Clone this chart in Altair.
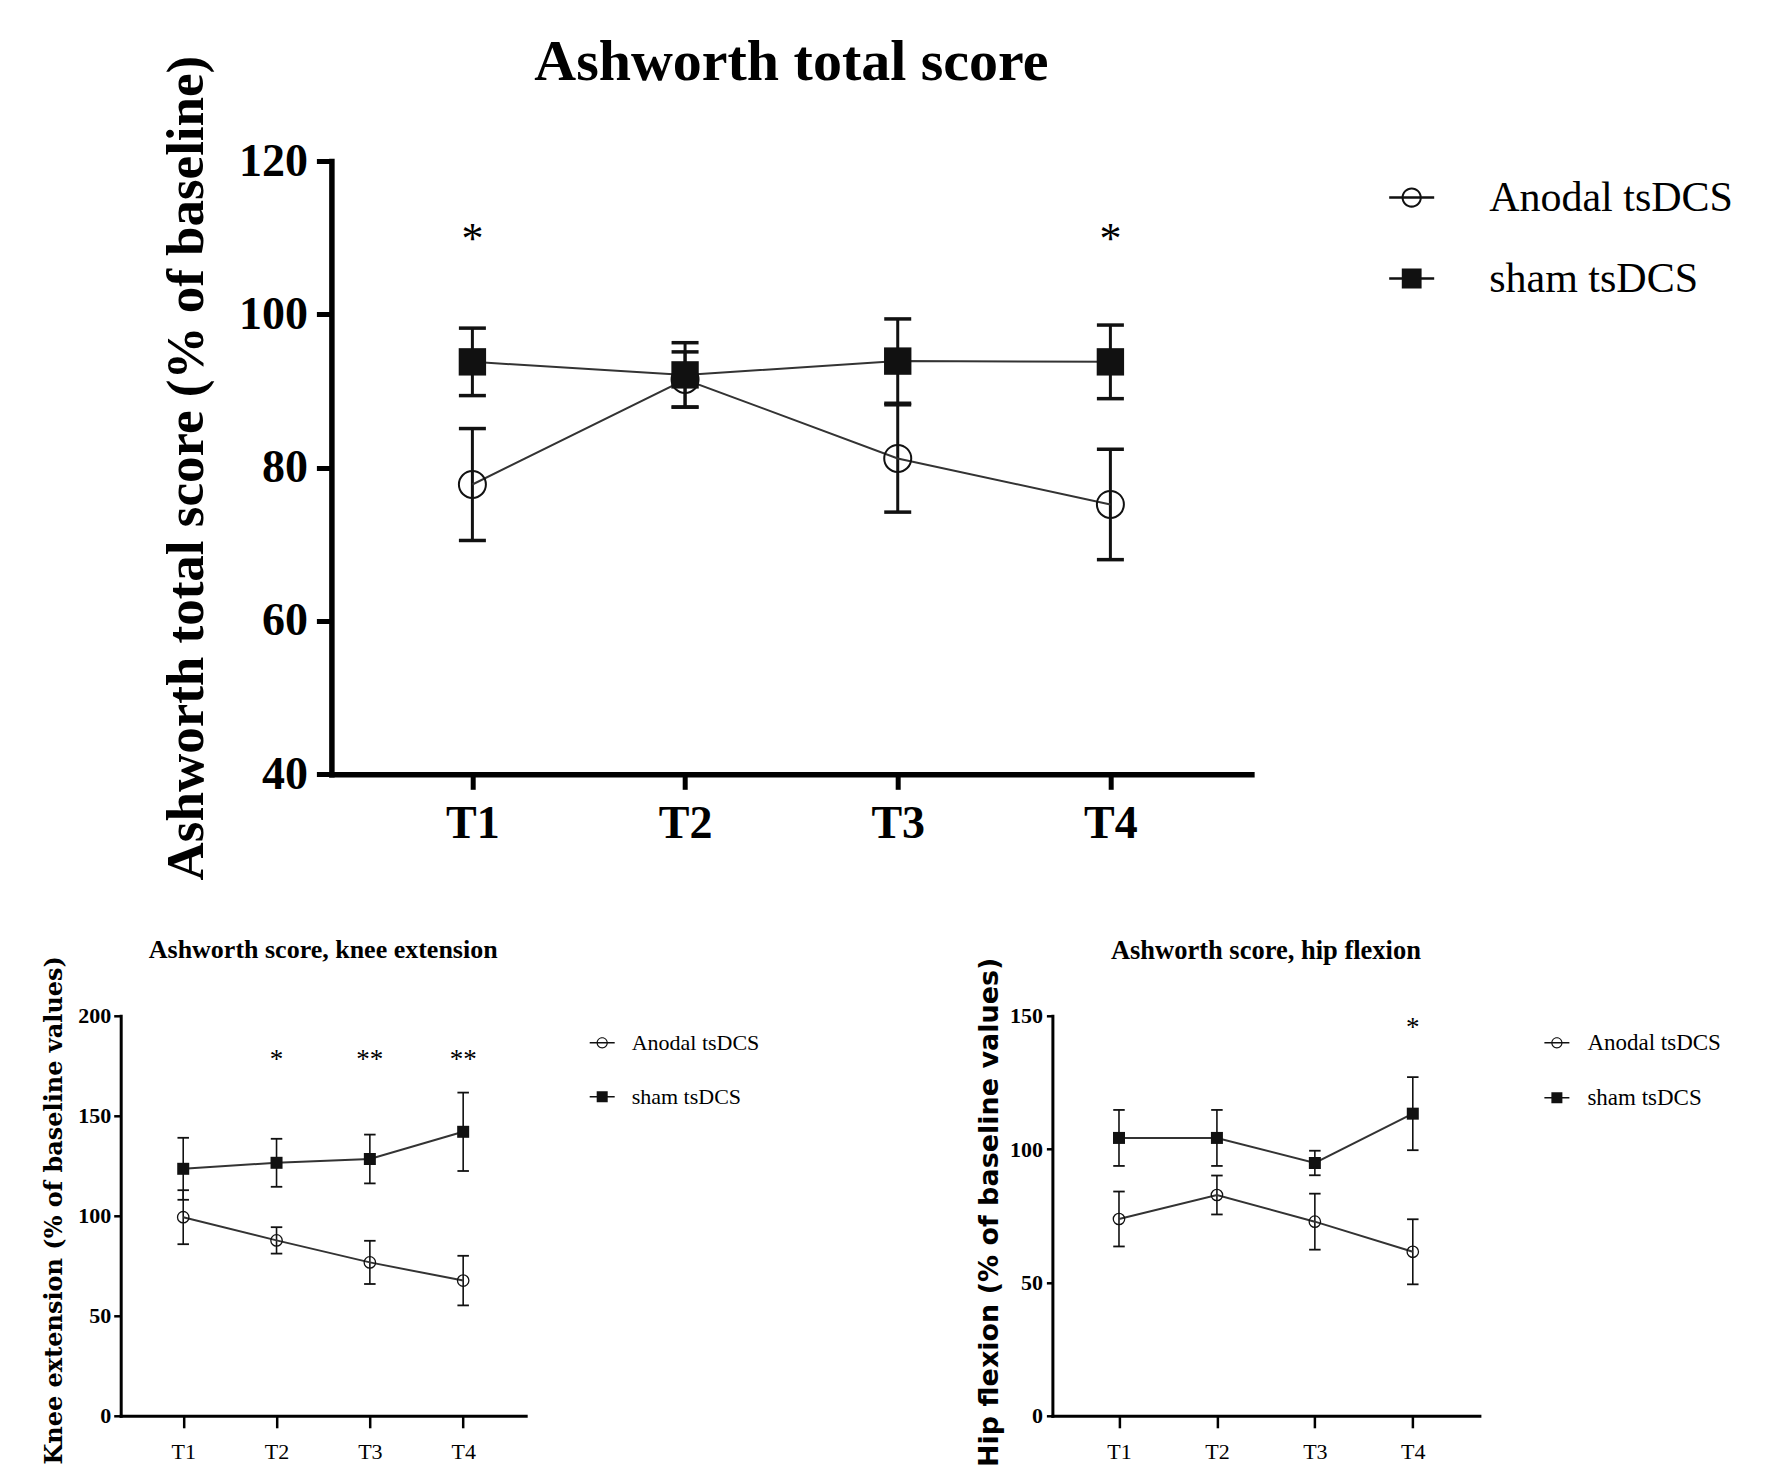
import altair as alt
import pandas as pd

# ---------------- data ----------------
timepoints = ["T1", "T2", "T3", "T4"]
groups = ["Anodal tsDCS", "sham tsDCS"]

# Ashworth total score (% of baseline): mean and SEM
total_anodal_mean = [77.8, 91.5, 81.2, 75.2]
total_anodal_sem = [7.3, 3.6, 7.0, 7.2]
total_sham_mean = [93.8, 92.1, 93.9, 93.8]
total_sham_sem = [4.4, 4.2, 5.5, 4.8]
total_sig = ["*", "", "", "*"]
total_sig_level = 110.3

# Ashworth score, knee extension (% of baseline values)
knee_anodal_mean = [99.3, 87.7, 76.7, 67.6]
knee_anodal_sem = [13.5, 6.6, 10.8, 12.4]
knee_sham_mean = [123.5, 126.5, 128.4, 142.0]
knee_sham_sem = [15.5, 12.0, 12.2, 19.6]
knee_sig = ["", "*", "**", "**"]
knee_sig_level = 180.0

# Ashworth score, hip flexion (% of baseline values)
hip_anodal_mean = [73.8, 82.8, 72.8, 61.5]
hip_anodal_sem = [10.3, 7.3, 10.5, 12.2]
hip_sham_mean = [104.2, 104.2, 94.8, 113.3]
hip_sham_sem = [10.5, 10.5, 4.6, 13.7]
hip_sig = ["", "", "", "*"]
hip_sig_level = 147.0

# ---------------- styling ----------------
INK = "#111111"
LINE = "#333333"
SERIF = "Liberation Serif"

# legend glyphs: horizontal line with an open circle / a filled square
PATH_OPEN = ("M-1,-0.055H1V0.055H-1Z"
             "M0.45,0A0.45,0.45 0 1,1 -0.45,0A0.45,0.45 0 1,1 0.45,0Z"
             "M0.36,0A0.36,0.36 0 1,0 -0.36,0A0.36,0.36 0 1,0 0.36,0Z")
PATH_FILLED = "M-1,-0.055H1V0.055H-1ZM-0.44,-0.44H0.44V0.44H-0.44Z"

TOP_SHIFT = 210.7  # horizontal offset of the top panel's axes from the lower-left panel

TOP = dict(
    width=920 + TOP_SHIFT, height=613.3, xpad=0.663, xrange=[TOP_SHIFT, TOP_SHIFT + 920],
    yoffset=-TOP_SHIFT,
    ydomain=[40, 120], yticks=[40, 60, 80, 100, 120],
    ytitle="Ashworth total score (% of baseline)", ytitle_font=SERIF,
    ytitle_size=53, ytitle_x=-144.5, ytitle_y=306.6,
    ylab_font=SERIF, ylab_size=46, ylab_weight="bold", ylab_pad=9,
    xlab_font=SERIF, xlab_size=46, xlab_weight="bold", xlab_pad=12,
    axis_w=5.5, tick_w=5, ytick_len=15, xtick_len=15,
    line_w=2, err_w=3, cap=27, cap_t=3.5,
    circle=729, circle_w=2, square=750,
    sig_size=44, sig_dy=4.8,
    leg_x=1268.5, leg_y=14, leg_sym=2025, leg_font=42, leg_off=55, leg_row=37,
    title="Ashworth total score", title_size=58, title_dy=82.6, title_dx=TOP_SHIFT / 2,
)

KNEE = dict(
    width=405, height=400, xpad=0.67, xrange=None, yoffset=0,
    ydomain=[0, 200], yticks=[0, 50, 100, 150, 200],
    ytitle="Knee extension (% of baseline values)", ytitle_font="DejaVu Serif",
    ytitle_size=24, ytitle_x=-66.5, ytitle_y=194,
    ylab_font=SERIF, ylab_size=22, ylab_weight="bold", ylab_pad=3,
    xlab_font=SERIF, xlab_size=22, xlab_weight="normal", xlab_pad=14,
    axis_w=3, tick_w=2.5, ytick_len=7, xtick_len=12,
    line_w=2, err_w=1.6, cap=11.5, cap_t=1.8,
    circle=130, circle_w=1.3, square=144,
    sig_size=27, sig_dy=4.6,
    leg_x=469, leg_y=14.5, leg_sym=625, leg_font=22, leg_off=17, leg_row=30,
    title="Ashworth score, knee extension", title_size=26, title_dy=28.8, title_dx=0,
)

HIP = dict(KNEE)
HIP.update(
    width=427, xpad=0.68,
    ydomain=[0, 150], yticks=[0, 50, 100, 150],
    ytitle="Hip flexion (% of baseline values)", ytitle_font="DejaVu Sans",
    ytitle_size=27, ytitle_x=-62.5, ytitle_y=196,
    ylab_pad=4, ytick_len=6,
    leg_x=492, leg_font=23, leg_off=18,
    title="Ashworth score, hip flexion", title_size=26.5, title_dy=28.5,
)


def make_panel(mean_a, sem_a, mean_s, sem_s, sig, sig_level, st):
    rows = []
    for g, means, sems in ((groups[0], mean_a, sem_a), (groups[1], mean_s, sem_s)):
        for t, m, s in zip(timepoints, means, sems):
            rows.append({"time": t, "group": g, "mean": m, "lo": m - s, "hi": m + s})
    df = pd.DataFrame(rows)
    sig_df = pd.DataFrame({"time": timepoints, "sig": sig,
                           "level": [sig_level] * len(timepoints)})
    sig_df = sig_df[sig_df["sig"] != ""]

    x_axis = alt.Axis(
        title=None, labelAngle=0, labelFont=st["xlab_font"], labelFontSize=st["xlab_size"],
        labelFontWeight=st["xlab_weight"], labelColor="black", labelPadding=st["xlab_pad"],
        domainColor="black", domainWidth=st["axis_w"], domainCap="square",
        tickColor="black", tickWidth=st["tick_w"], tickSize=st["xtick_len"], grid=False,
    )
    if st["xrange"] is not None:
        x_scale = alt.Scale(type="point", domain=timepoints, padding=st["xpad"], range=st["xrange"])
    else:
        x_scale = alt.Scale(type="point", domain=timepoints, padding=st["xpad"])
    x = alt.X("time:N", sort=timepoints, scale=x_scale, axis=x_axis)
    y_scale = alt.Scale(domain=st["ydomain"], nice=False, zero=False)
    y_axis = alt.Axis(
        values=st["yticks"], grid=False, offset=st["yoffset"],
        labelFont=st["ylab_font"], labelFontSize=st["ylab_size"], labelFontWeight=st["ylab_weight"],
        labelColor="black", labelPadding=st["ylab_pad"],
        domainColor="black", domainWidth=st["axis_w"], domainCap="square",
        tickColor="black", tickWidth=st["tick_w"], tickSize=st["ytick_len"],
        title=st["ytitle"], titleFont=st["ytitle_font"], titleFontSize=st["ytitle_size"],
        titleFontWeight="bold", titleColor="black", titleAngle=270,
        titleX=st["ytitle_x"], titleY=st["ytitle_y"], titleBaseline="middle", titleAlign="center",
    )

    def Y(field):
        return alt.Y(f"{field}:Q", scale=y_scale, axis=y_axis)

    base = alt.Chart(df)
    err = base.mark_rule(color=INK, strokeWidth=st["err_w"]).encode(x=x, y=Y("lo"), y2="hi:Q")
    cap_lo = base.mark_tick(orient="horizontal", color=INK, thickness=st["cap_t"],
                            size=st["cap"], opacity=1).encode(x=x, y=Y("lo"))
    cap_hi = base.mark_tick(orient="horizontal", color=INK, thickness=st["cap_t"],
                            size=st["cap"], opacity=1).encode(x=x, y=Y("hi"))
    line = base.mark_line(color=LINE, strokeWidth=st["line_w"]).encode(
        x=x, y=Y("mean"), detail="group:N")
    pts_a = base.transform_filter(alt.datum.group == groups[0]).mark_point(
        shape="circle", filled=False, color=INK, size=st["circle"],
        strokeWidth=st["circle_w"], opacity=1).encode(x=x, y=Y("mean"))
    pts_s = base.transform_filter(alt.datum.group == groups[1]).mark_point(
        shape="square", filled=True, color=INK, size=st["square"], opacity=1).encode(
        x=x, y=Y("mean"))

    legend = alt.Legend(
        title=None, orient="none", legendX=st["leg_x"], legendY=st["leg_y"],
        symbolSize=st["leg_sym"], symbolStrokeWidth=0, symbolFillColor="black",
        symbolOpacity=1, labelFont=SERIF, labelFontSize=st["leg_font"],
        labelColor="black", labelOffset=st["leg_off"], rowPadding=st["leg_row"],
        padding=0, offset=0, labelLimit=600,
    )
    leg = base.mark_point(filled=True, color=INK, opacity=0).encode(
        x=x, y=Y("mean"),
        shape=alt.Shape("group:N", scale=alt.Scale(domain=groups, range=[PATH_OPEN, PATH_FILLED]),
                        legend=legend),
    )
    stars = alt.Chart(sig_df).mark_text(
        font=SERIF, fontSize=st["sig_size"], color="black", baseline="middle",
        align="center", dy=st["sig_dy"]).encode(x=x, y=Y("level"), text="sig:N")

    return alt.layer(err, cap_lo, cap_hi, line, pts_a, pts_s, leg, stars).properties(
        width=st["width"], height=st["height"],
        title=alt.TitleParams(text=st["title"], font=SERIF, fontSize=st["title_size"],
                              fontWeight="bold", color="black", anchor="middle",
                              baseline="alphabetic", offset=0, dy=st["title_dy"],
                              dx=st["title_dx"]),
    )


top = make_panel(total_anodal_mean, total_anodal_sem, total_sham_mean, total_sham_sem,
                 total_sig, total_sig_level, TOP)
knee = make_panel(knee_anodal_mean, knee_anodal_sem, knee_sham_mean, knee_sham_sem,
                  knee_sig, knee_sig_level, KNEE)
hip = make_panel(hip_anodal_mean, hip_anodal_sem, hip_sham_mean, hip_sham_sem,
                 hip_sig, hip_sig_level, HIP)

bottom_row = alt.hconcat(knee, hip, spacing=526.7, bounds="flush").resolve_scale(
    shape="independent").resolve_legend(shape="independent")

chart = alt.vconcat(top, bottom_row, spacing=240.8, bounds="flush").resolve_scale(
    shape="independent").resolve_legend(shape="independent").properties(
    padding={"left": 33.7, "top": 25, "right": 10, "bottom": 0}
).configure(background="white").configure_view(strokeWidth=0)

chart.save("out.html", embed_options={"renderer": "svg", "actions": False})
